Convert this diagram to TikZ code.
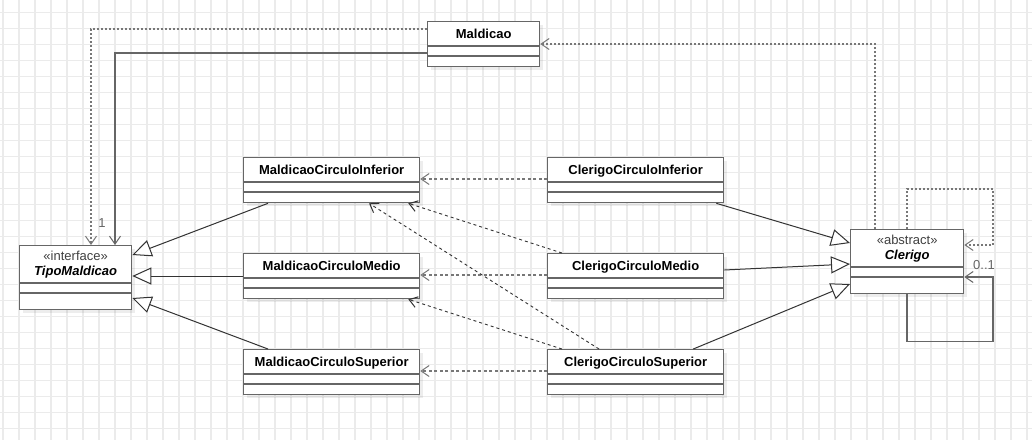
\documentclass[tikz,border=0pt]{standalone}
\usepackage{fontspec}
\setmainfont{Liberation Sans}
\usetikzlibrary{arrows.meta,calc,shadows}
\definecolor{boxc}{HTML}{666666}
\definecolor{gridc}{HTML}{EBEBEB}
\definecolor{genc}{HTML}{333333}
\definecolor{depc}{HTML}{777777}
\definecolor{labc}{HTML}{666666}
\tikzset{
  cls/.style={draw=boxc, line width=1.3pt, fill=white, anchor=north west, inner sep=0pt,
    drop shadow={shadow xshift=3pt, shadow yshift=-3pt, fill=black, opacity=0.07}},
  divl/.style={draw=boxc, line width=1.3pt},
  ttl/.style={font=\fontsize{13}{15}\selectfont\bfseries, inner sep=0pt, anchor=base, text=black},
  stereo/.style={font=\fontsize{13}{15}\selectfont, inner sep=0pt, anchor=base, text=black!75},
  mult/.style={font=\fontsize{13}{15}\selectfont, inner sep=0pt, anchor=base, text=labc},
  opentip/.style={-{Straight Barb[length=8pt,width=11pt,line width=1pt]}},
  gen/.style={draw=genc, line width=1pt, -{Triangle[length=19pt,width=17pt,fill=white,line width=1pt]}},
  dotdep/.style={draw=depc, line width=1.4pt, dash pattern=on 2pt off 2pt, opentip},
  hdep/.style={draw=depc, line width=1.3pt, dash pattern=on 3pt off 2.5pt, opentip},
  ddep/.style={draw=genc, line width=0.9pt, dash pattern=on 3pt off 3pt, opentip},
  assoc/.style={draw=boxc, line width=1.4pt, opentip},
}
\newcommand{\umlcls}[5]{%
  \node[cls, minimum width=#4pt, minimum height=45pt] (#1) at (#2,#3) {};
  \node[ttl] (#1t) at ($(#1.north)+(0,17.5)$) {#5};
  \draw[divl] ($(#1.north west)+(0,25)$) -- ($(#1.north east)+(0,25)$);
  \draw[divl] ($(#1.north west)+(0,35)$) -- ($(#1.north east)+(0,35)$);
}
\begin{document}
\begin{tikzpicture}[x=1pt,y=-1pt]
\useasboundingbox (0,0) rectangle (1032,440);
\fill[white] (0,0) rectangle (1032,440);
\foreach \i in {0,...,64} \draw[gridc, line width=1.2pt] (3+16*\i,0) -- (3+16*\i,440);
\foreach \j in {0,...,26} \draw[gridc, line width=1.2pt] (0,12.7+16*\j) -- (1032,12.7+16*\j);

% classes
\umlcls{maldicao}{427}{21}{112}{Maldicao}
\umlcls{mci}{243}{157}{176}{MaldicaoCirculoInferior}
\umlcls{mcm}{243}{253}{176}{MaldicaoCirculoMedio}
\umlcls{mcs}{243}{349}{176}{MaldicaoCirculoSuperior}
\umlcls{cci}{547}{157}{176}{ClerigoCirculoInferior}
\umlcls{ccm}{547}{253}{176}{ClerigoCirculoMedio}
\umlcls{ccs}{547}{349}{176}{ClerigoCirculoSuperior}

\node[cls, minimum width=112pt, minimum height=64pt] (tipo) at (19,245) {};
\node[stereo] (tipos) at ($(tipo.north)+(0,15)$) {«interface»};
\node[ttl, font=\fontsize{13}{15}\selectfont\bfseries\itshape] (tipot) at ($(tipo.north)+(0,30)$) {TipoMaldicao};
\draw[divl] ($(tipo.north west)+(0,38)$) -- ($(tipo.north east)+(0,38)$);
\draw[divl] ($(tipo.north west)+(0,48)$) -- ($(tipo.north east)+(0,48)$);

\node[cls, minimum width=113pt, minimum height=64pt] (clerigo) at (850,229) {};
\node[stereo] (clerigos) at ($(clerigo.north)+(0,15)$) {«abstract»};
\node[ttl, font=\fontsize{13}{15}\selectfont\bfseries\itshape] (clerigot) at ($(clerigo.north)+(0,30)$) {Clerigo};
\draw[divl] ($(clerigo.north west)+(0,38)$) -- ($(clerigo.north east)+(0,38)$);
\draw[divl] ($(clerigo.north west)+(0,48)$) -- ($(clerigo.north east)+(0,48)$);

% Maldicao -> TipoMaldicao
\draw[dotdep] ($(maldicao.north west)+(0,8)$) -| ($(tipo.north west)+(72,0)$);
\draw[assoc] ($(maldicao.north west)+(0,32)$) -| ($(tipo.north west)+(96,0)$);
\node[mult] (m1) at (102,227) {1};

% Clerigo -> Maldicao
\draw[dotdep] ($(clerigo.north west)+(25,0)$) |- ($(maldicao.north east)+(0,23)$);

% Clerigo self
\draw[dotdep] ($(clerigo.north west)+(57,0)$) -- ++(0,-40) -- ++(86,0) |- ($(clerigo.north east)+(0,16)$);
\draw[assoc] ($(clerigo.south west)+(57,0)$) -- ++(0,47) -- ++(86,0) |- ($(clerigo.north east)+(0,48)$);
\node[mult] (m01) at (984,269) {0..1};

% generalizations to TipoMaldicao
\draw[gen] ($(mci.south west)+(25,0)$) -- ($(tipo.north east)+(0,10)$);
\draw[gen] ($(mcm.north west)+(0,23)$) -- ($(tipo.north east)+(0,31)$);
\draw[gen] ($(mcs.north west)+(25,0)$) -- ($(tipo.north east)+(0,53)$);

% generalizations to Clerigo
\draw[gen] ($(cci.south east)+(-8,0)$) -- ($(clerigo.north west)+(0,14)$);
\draw[gen] ($(ccm.north east)+(0,17)$) -- ($(clerigo.north west)+(0,35)$);
\draw[gen] ($(ccs.north east)+(-31,0)$) -- ($(clerigo.north west)+(0,55)$);

% dependencies
\draw[hdep] ($(cci.north west)+(0,22)$) -- ($(mci.north east)+(0,22)$);
\draw[hdep] ($(ccm.north west)+(0,22)$) -- ($(mcm.north east)+(0,22)$);
\draw[hdep] ($(ccs.north west)+(0,22)$) -- ($(mcs.north east)+(0,22)$);
\draw[ddep] ($(ccm.north west)+(15,0)$) -- ($(mci.south east)+(-12,0)$);
\draw[ddep] ($(ccs.north west)+(52,0)$) -- ($(mci.south west)+(126,0)$);
\draw[ddep] ($(ccs.north west)+(15,0)$) -- ($(mcm.south east)+(-12,0)$);
\end{tikzpicture}
\end{document}
